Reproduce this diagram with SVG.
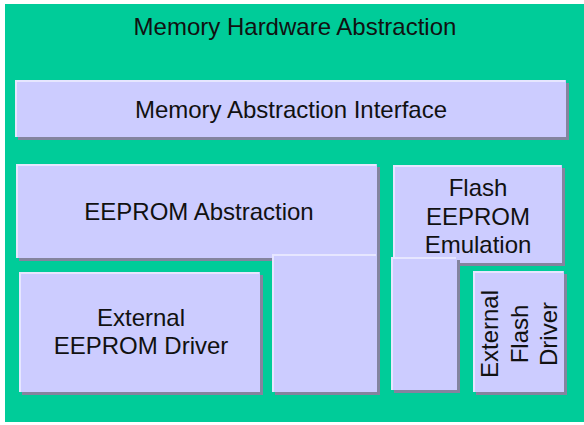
<svg xmlns="http://www.w3.org/2000/svg" width="584" height="425" viewBox="0 0 584 425">
<style>
.sh{fill:#84849f}
.bx{fill:#ccccff}
.hl{stroke:#e6e6ff;stroke-width:2;fill:none}
text{font-family:"Liberation Sans",Arial,sans-serif;font-size:24px;fill:#111;text-anchor:middle}
</style>
<rect x="0" y="0" width="584" height="425" fill="#ffffff"/>
<g id="memory_hw_abstraction">
<rect x="5" y="4" width="579" height="418" fill="#00cc99"/>
<text x="295" y="35">Memory Hardware Abstraction</text>
</g>
<g id="memory_abstraction_interface">
<rect class="sh" x="18" y="83" width="551" height="57"/>
<rect class="bx" x="15" y="80" width="551" height="57"/>
<path class="hl" d="M16 137V81H565"/>
<text x="291" y="118">Memory Abstraction Interface</text>
</g>
<g id="eeprom_abstraction">
<rect class="sh" x="19" y="167" width="361" height="94"/>
<rect class="bx" x="16" y="164" width="361" height="94"/>
<path class="hl" d="M17 258V165H376"/>
<rect class="sh" x="275" y="257" width="105" height="138"/>
<rect class="bx" x="272" y="254" width="105" height="138"/>
<path class="hl" d="M273 392V255H376"/>
<text x="199" y="220">EEPROM Abstraction</text>
</g>
<g id="flash_eeprom_emulation">
<rect class="sh" x="396" y="168" width="169" height="98"/>
<rect class="bx" x="393" y="165" width="169" height="98"/>
<path class="hl" d="M394 263V166H561"/>
<rect class="sh" x="394" y="260" width="66" height="133"/>
<rect class="bx" x="391" y="257" width="66" height="133"/>
<path class="hl" d="M392 390V258H456"/>
<text x="478" y="196">Flash</text>
<text x="478" y="225">EEPROM</text>
<text x="478" y="253">Emulation</text>
</g>
<g id="external_eeprom_driver">
<rect class="sh" x="22" y="275" width="241" height="120"/>
<rect class="bx" x="19" y="272" width="241" height="120"/>
<path class="hl" d="M20 392V273H259"/>
<text x="141" y="326">External</text>
<text x="141" y="354">EEPROM Driver</text>
</g>
<g id="external_flash_driver">
<rect class="sh" x="476" y="274" width="91" height="121"/>
<rect class="bx" x="473" y="271" width="91" height="121"/>
<path class="hl" d="M474 392V272H563"/>
<text font-size="23" transform="translate(498,334) rotate(-90)">External</text>
<text font-size="23" transform="translate(528,334) rotate(-90)">Flash</text>
<text font-size="23" transform="translate(557,334) rotate(-90)">Driver</text>
</g>
<g id="connectors"/>
</svg>
